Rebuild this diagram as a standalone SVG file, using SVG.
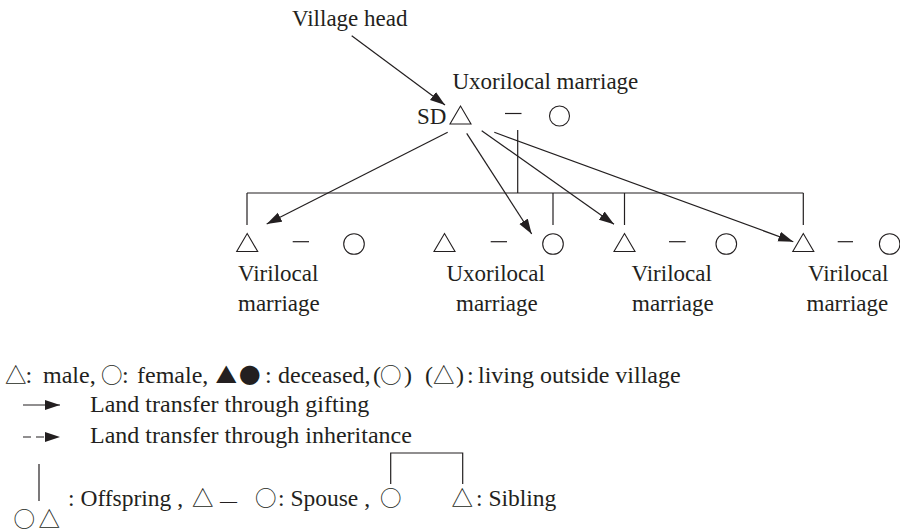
<svg xmlns="http://www.w3.org/2000/svg" width="900" height="532" viewBox="0 0 900 532">
<style>
text{font-family:"Liberation Serif","Times New Roman",serif;font-size:23px;fill:#231f20}
.lg{font-size:24px}
.bt{font-size:23.5px}
.sym{font-family:"Noto Sans CJK SC","DejaVu Sans",sans-serif;font-size:21.5px}
.ln{stroke:#231f20;stroke-width:1.2;fill:none}
.arr{stroke:#231f20;stroke-width:1.2;fill:none;marker-end:url(#ah)}
.shp{stroke:#231f20;stroke-width:1.1;fill:#fff}
</style>
<defs>
<marker id="ah" markerUnits="userSpaceOnUse" markerWidth="16" markerHeight="12" refX="15" refY="5" orient="auto">
<path d="M0,0 L15,5 L0,10 z" fill="#231f20"/>
</marker>
</defs>
<rect width="900" height="532" fill="#fff"/>

<g id="village-head"><text x="292" y="26">Village head</text></g>

<g id="sd">
<text x="417" y="124">SD</text>
<polygon class="shp" points="450,124 471,124 460.5,106"/>
<line class="ln" x1="505" y1="113.5" x2="521.5" y2="113.5"/>
<circle class="shp" cx="559.5" cy="116" r="10"/>
<text x="452.5" y="89">Uxorilocal marriage</text>
</g>

<g id="family1">
<polygon class="shp" points="236.7,251.5 257.7,251.5 247.2,233.5"/>
<line class="ln" x1="292.7" y1="241.7" x2="309" y2="241.7"/>
<circle class="shp" cx="354" cy="244" r="10.3"/>
<text x="238" y="280.5">Virilocal</text>
<text x="238" y="311">marriage</text>
</g>

<g id="family2">
<polygon class="shp" points="434,251.5 455,251.5 444.5,233.5"/>
<line class="ln" x1="490.7" y1="241.7" x2="507" y2="241.7"/>
<circle class="shp" cx="553" cy="244" r="10.3"/>
<text x="446.5" y="280.5">Uxorilocal</text>
<text x="456" y="311">marriage</text>
</g>

<g id="family3">
<polygon class="shp" points="614,251.5 635,251.5 624.5,233.5"/>
<line class="ln" x1="669" y1="241.7" x2="685.7" y2="241.7"/>
<circle class="shp" cx="726.3" cy="244" r="10.3"/>
<text x="631.5" y="280.5">Virilocal</text>
<text x="632" y="311">marriage</text>
</g>

<g id="family4">
<polygon class="shp" points="792.8,251.5 813.8,251.5 803.3,233.5"/>
<line class="ln" x1="837.7" y1="241.7" x2="853" y2="241.7"/>
<circle class="shp" cx="889.7" cy="244" r="10.3"/>
<text x="808" y="280.5">Virilocal</text>
<text x="806.5" y="311">marriage</text>
</g>

<g id="connectors">
<line class="ln" x1="517.7" y1="130" x2="517.7" y2="193"/>
<line class="ln" x1="247" y1="193" x2="803.3" y2="193"/>
<line class="ln" x1="247" y1="193" x2="247" y2="225"/>
<line class="ln" x1="553" y1="193" x2="553" y2="225"/>
<line class="ln" x1="624.5" y1="193" x2="624.5" y2="225"/>
<line class="ln" x1="803.3" y1="193" x2="803.3" y2="225"/>
<line class="arr" x1="351.7" y1="35.7" x2="445" y2="105"/>
<line class="arr" x1="447.7" y1="132.3" x2="266.7" y2="224"/>
<line class="arr" x1="466.7" y1="133.3" x2="531.7" y2="234"/>
<line class="arr" x1="481.7" y1="130.7" x2="614" y2="224.3"/>
<line class="arr" x1="494.3" y1="132.3" x2="793.3" y2="241.7"/>
</g>

<g id="legend">
<text class="lg" y="383"><tspan class="sym" x="5">△</tspan><tspan x="25.5">:</tspan><tspan x="43">male,</tspan><tspan class="sym" x="101">○</tspan><tspan x="122">:</tspan><tspan x="137">female,</tspan><tspan class="sym" x="215.5">▲</tspan><tspan class="sym" x="239">●</tspan><tspan x="265">:</tspan><tspan x="278">deceased,</tspan><tspan x="373">(</tspan><tspan class="sym" x="380">○</tspan><tspan x="404">)</tspan><tspan x="425">(</tspan><tspan class="sym" x="433">△</tspan><tspan x="456">)</tspan><tspan x="467">:</tspan><tspan x="478">living outside village</tspan></text>
<line class="arr" x1="23" y1="405" x2="60" y2="405"/>
<text class="lg" x="90" y="411.5">Land transfer through gifting</text>
<line class="arr" x1="23" y1="437" x2="60" y2="437" stroke-dasharray="8,5"/>
<text class="lg" x="90" y="443">Land transfer through inheritance</text>
<line class="ln" x1="39" y1="464" x2="39" y2="501"/>
<text y="527"><tspan class="sym" x="13.5">○</tspan><tspan class="sym" x="38.5">△</tspan></text>
<text class="bt" y="506"><tspan x="68">: Offspring ,</tspan><tspan class="sym" x="192">△</tspan><tspan x="220" style="font-size:17px">—</tspan><tspan class="sym" x="255">○</tspan><tspan x="278">: Spouse ,</tspan><tspan class="sym" x="380">○</tspan><tspan class="sym" x="451.5">△</tspan><tspan x="476">: Sibling</tspan></text>
<polyline class="ln" points="390.7,484 390.7,453 462.7,453 462.7,484"/>
</g>
</svg>
